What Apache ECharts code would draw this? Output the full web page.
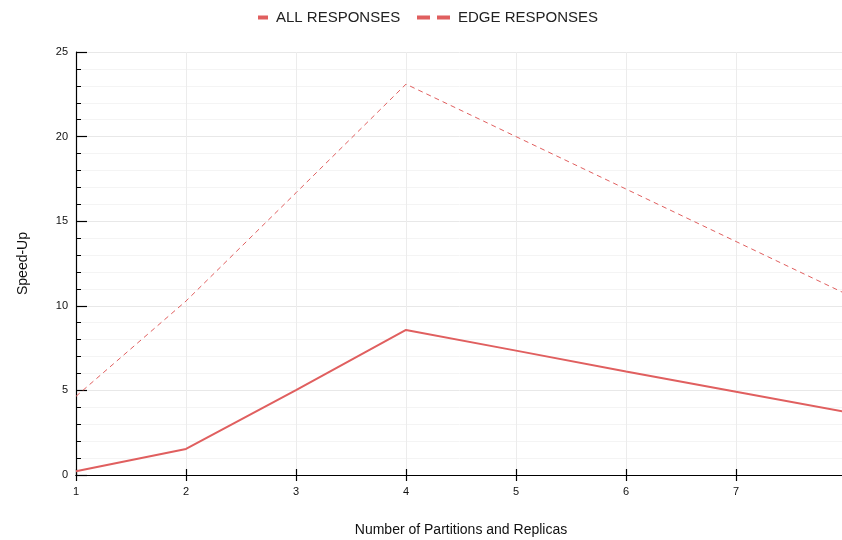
<!DOCTYPE html>
<html><head><meta charset="utf-8">
<script src="https://cdn.jsdelivr.net/npm/echarts@6/dist/echarts.min.js"></script>
<style>html,body{margin:0;padding:0;background:#fff}#c{width:842px;height:540px}</style>
</head><body><div id="c"></div>
<script>
const xValues = [1, 2, 3, 4, 5, 6, 7, 8];
const allResponses = [0.22, 1.54, 5.02, 8.57, 7.35, 6.12, 4.92, 3.72];
const edgeResponses = [4.65, 10.28, 16.68, 23.1, 20.0, 16.9, 13.8, 10.7];
const seriesNames = ['ALL RESPONSES', 'EDGE RESPONSES'];
const lineColor = '#e05f5f';
const font = 'Liberation Sans, Arial, sans-serif';

const chart = echarts.init(document.getElementById('c'));
const pairs = arr => xValues.map((x, i) => [x, arr[i]]);
const xCommon = {
  type: 'value', min: 1, max: 8, interval: 1,
  axisLine: { show: true, onZero: false, lineStyle: { color: '#000', width: 1.2 } }
};
const legendText = { fontSize: 15, color: '#222', fontFamily: font, padding: [0, 0, 0, 3] };
chart.setOption({
  animation: false,
  textStyle: { fontFamily: font },
  legend: [
    {
      top: 10, left: 258, padding: 0, itemWidth: 10, itemHeight: 4, itemGap: 0,
      textStyle: legendText,
      data: [{ name: seriesNames[0], icon: 'rect', itemStyle: { color: lineColor } }]
    },
    {
      top: 10, left: 417, padding: 0, itemWidth: 33, itemHeight: 4, itemGap: 0,
      textStyle: legendText,
      data: [{ name: seriesNames[1], icon: 'path://M0,0 L13,0 L13,4 L0,4 Z M20,0 L33,0 L33,4 L20,4 Z', itemStyle: { color: lineColor } }]
    }
  ],
  grid: { left: 76, right: -4, top: 52, bottom: 65, containLabel: false, outerBoundsMode: 'none' },
  xAxis: [
    Object.assign({}, xCommon, {
      name: 'Number of Partitions and Replicas', nameLocation: 'middle', nameGap: 48,
      nameTextStyle: { fontSize: 14, color: '#111', fontFamily: font },
      axisTick: { show: true, inside: false, length: 6, lineStyle: { color: '#000', width: 1.2 } },
      axisLabel: { fontSize: 11, color: '#111', margin: 11, showMaxLabel: false },
      splitLine: { show: true, lineStyle: { color: '#ececec', width: 1 } }
    }),
    Object.assign({}, xCommon, {
      position: 'bottom',
      axisTick: { show: true, inside: true, length: 6, lineStyle: { color: '#000', width: 1.2 } },
      axisLabel: { show: false },
      splitLine: { show: false }
    })
  ],
  yAxis: {
    type: 'value', min: 0, max: 25, interval: 5,
    name: 'Speed-Up', nameLocation: 'middle', nameGap: 46, nameRotate: 90,
    nameTextStyle: { fontSize: 14, color: '#111', fontFamily: font },
    axisLine: { show: true, lineStyle: { color: '#000', width: 1.2 } },
    axisTick: { show: true, inside: true, length: 11, lineStyle: { color: '#000', width: 1.2 } },
    minorTick: { show: true, splitNumber: 5, length: 5, lineStyle: { color: '#000', width: 1 } },
    axisLabel: { fontSize: 11, color: '#111', margin: 8 },
    splitLine: { show: true, lineStyle: { color: '#e8e8e8', width: 1 } },
    minorSplitLine: { show: true, lineStyle: { color: '#f4f4f4', width: 1 } }
  },
  series: [
    {
      name: seriesNames[0], type: 'line', data: pairs(allResponses), xAxisIndex: 0,
      showSymbol: false, symbol: 'none', color: lineColor,
      lineStyle: { color: lineColor, width: 2 }
    },
    {
      name: seriesNames[1], type: 'line', data: pairs(edgeResponses), xAxisIndex: 0,
      showSymbol: false, symbol: 'none', color: lineColor,
      lineStyle: { color: lineColor, width: 1, type: [5, 4] }
    }
  ]
});
</script></body></html>
